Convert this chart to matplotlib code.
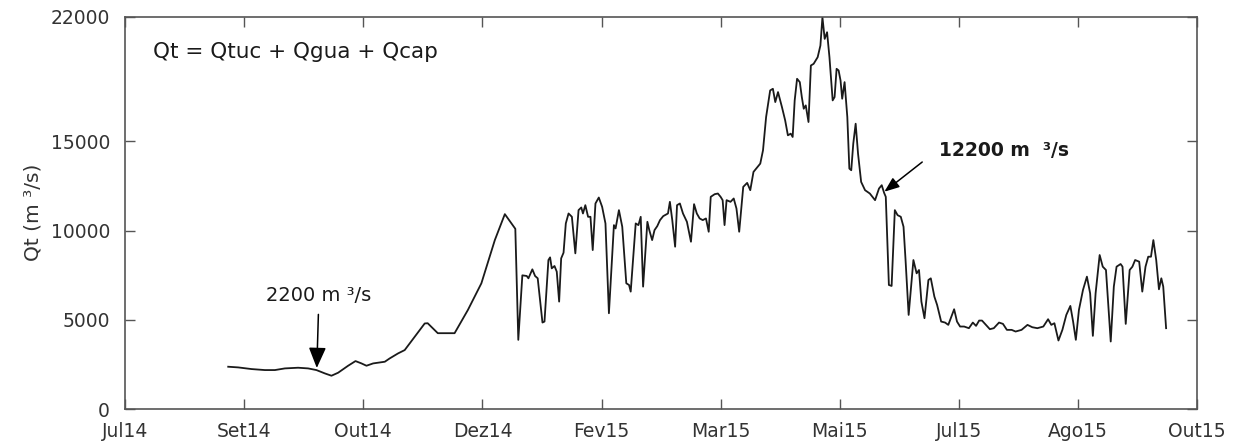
import matplotlib
matplotlib.use("Agg")
import matplotlib.pyplot as plt

# --- data (x in axis units: 0 = Jul14 ... 9 = Out15) ---
tick_labels = ["Jul14", "Set14", "Out14", "Dez14", "Fev15", "Mar15", "Mai15", "Jul15", "Ago15", "Out15"]
y_ticks = [0, 5000, 10000, 15000, 22000]

t_pos = [0.865, 0.949, 1.061, 1.173, 1.257, 1.341, 1.452, 1.536, 1.606, 1.676, 1.732, 1.788,
         1.872, 1.934, 1.984, 2.026, 2.082, 2.18, 2.221, 2.291, 2.347, 2.431, 2.515,
         2.54, 2.625, 2.766, 2.878, 2.991, 3.104, 3.188, 3.276, 3.301,
         3.335, 3.372, 3.386, 3.419, 3.442, 3.464, 3.504, 3.521, 3.554, 3.568, 3.582, 3.605,
         3.624, 3.644, 3.661, 3.681, 3.7, 3.723, 3.751, 3.78, 3.807, 3.83, 3.844, 3.864,
         3.887, 3.907, 3.926, 3.949, 3.977, 4.005, 4.033, 4.062, 4.104, 4.118, 4.146, 4.174,
         4.208, 4.231, 4.245, 4.287, 4.31, 4.329, 4.349,
         4.385, 4.401, 4.425, 4.445, 4.468, 4.491, 4.518, 4.558, 4.574, 4.594, 4.618, 4.634,
         4.658, 4.684, 4.717, 4.751, 4.777, 4.8, 4.824, 4.85, 4.877, 4.9, 4.917, 4.95, 4.977,
         5.0, 5.017, 5.033, 5.05, 5.083, 5.11, 5.133, 5.156, 5.19, 5.223, 5.249, 5.276, 5.299,
         5.333, 5.356, 5.382, 5.416, 5.439, 5.459, 5.482, 5.515, 5.542, 5.565, 5.589, 5.605,
         5.622, 5.642, 5.665, 5.682, 5.698, 5.715, 5.738, 5.758, 5.781, 5.815, 5.838, 5.855,
         5.874, 5.894, 5.914, 5.941, 5.957, 5.974, 5.991, 6.007, 6.021, 6.041, 6.064, 6.081,
         6.097, 6.114, 6.134, 6.154, 6.18, 6.213, 6.253, 6.297, 6.33, 6.353, 6.373, 6.387,
         6.413, 6.436, 6.463, 6.486, 6.513, 6.536, 6.553, 6.579, 6.619, 6.646, 6.666, 6.686,
         6.712, 6.745, 6.765, 6.795, 6.818, 6.852, 6.885, 6.912, 6.938, 6.961, 6.985, 7.011,
         7.045, 7.085, 7.118, 7.145, 7.171, 7.195, 7.228, 7.261, 7.294, 7.338, 7.371, 7.404,
         7.444, 7.477, 7.527, 7.577, 7.617, 7.66, 7.71, 7.75, 7.777, 7.803, 7.837, 7.87,
         7.903, 7.937, 7.96, 7.983, 8.009, 8.043, 8.076, 8.103, 8.126, 8.149, 8.183, 8.209,
         8.236, 8.276, 8.302, 8.325, 8.359, 8.375, 8.402, 8.435, 8.458, 8.481, 8.515, 8.541,
         8.568, 8.591, 8.614, 8.634, 8.658, 8.681, 8.701, 8.717, 8.741]

qt = [2370, 2332, 2239, 2183, 2183, 2276, 2314, 2276, 2183, 1997, 1866, 2034,
      2426, 2687, 2556, 2426, 2556, 2650, 2836, 3116, 3303, 4048, 4795,
      4809, 4250, 4250, 5555, 7046, 9469, 10923, 10100, 3877,
      7493, 7456, 7326, 7829, 7456, 7326, 4846, 4902, 8351, 8500, 7885, 8016,
      7698, 6021, 8444, 8761, 10401, 10960, 10774, 8724, 11147, 11296, 10960, 11426,
      10774, 10774, 8910, 11520, 11855, 11333, 10401, 5368, 10308, 10122, 11147, 10215,
      7046, 6953, 6580, 10401, 10308, 10774, 6860,
      10494, 10028, 9469, 10028, 10252, 10588, 10811, 10960, 11613, 10588, 9096, 11426,
      11520, 10960, 10494, 9376, 11482, 10960, 10681, 10588, 10681, 9935, 11892, 12041, 12079,
      11892, 11706, 10308, 11706, 11613, 11800, 11240, 9935, 12452, 12675, 12265, 13290, 13477,
      13756, 14502, 16366, 17857, 17950, 17205, 17764, 16925, 16180, 15341, 15434, 15248,
      17298, 18509, 18323, 17484, 16832, 17018, 16086, 19255, 19348, 19721, 20374, 21958,
      20746, 21119, 19721, 17298, 17484, 19069, 18975, 18416, 17391, 18323, 16366, 13477,
      13384, 14875, 15993, 14316, 12731, 12265, 12079, 11706, 12358, 12545, 12116, 11892,
      6953, 6897, 11147, 10867, 10774, 10215, 8351, 5275, 8351, 7605, 7792, 6021,
      5089, 7232, 7326, 6301, 5834, 4902, 4846, 4716, 5182, 5592, 4902, 4623,
      4623, 4530, 4846, 4660, 4958, 4958, 4716, 4474, 4530, 4846, 4772, 4436,
      4436, 4343, 4436, 4716, 4585, 4530, 4623, 5033, 4716, 4809, 3840, 4436,
      5275, 5778, 4902, 3877, 5555, 6673, 7419, 6487, 4101, 6487, 8631, 7978,
      7792, 3784, 6860, 7978, 8127, 7978, 4772, 7792, 7978, 8351, 8258, 6580,
      7978, 8537, 8537, 9469, 8351, 6710, 7326, 6860, 4530]

formula_text = "Qt = Qtuc + Qgua + Qcap"
ylabel_text = "Qt (m \u00b3/s)"
ann_low_text = "2200 m \u00b3/s"
ann_low_xy = (1.609, 2300)
ann_low_text_xy = (1.627, 6380)
ann_high_text = "12200 m  \u00b3/s"
ann_high_xy = (6.375, 12180)
ann_high_text_xy = (6.836, 14500)
ann_high_tail = (6.693, 13844)

plt.rcParams['font.family'] = ['DejaVu Sans']

fig = plt.figure(figsize=(12.36, 4.44), dpi=100)
ax = fig.add_axes([0.1013, 0.0788, 0.8671, 0.8840])

ax.plot(t_pos, qt, color='#1a1a1a', lw=1.3)

ax.set_xlim(0, len(tick_labels) - 1)
ax.set_ylim(0, 22000)
ax.set_xticks(range(len(tick_labels)))
ax.set_xticklabels(tick_labels)
ax.set_yticks(y_ticks)
ax.set_yticklabels([str(v) for v in y_ticks])

for s in ax.spines.values():
    s.set_color('#555555')
    s.set_linewidth(1.2)
ax.tick_params(direction='in', length=7, width=1.0, color='#555555',
               top=True, right=True, labelsize=13.5, labelcolor='#333333')
ax.tick_params(axis='x', pad=9)
ax.tick_params(axis='y', pad=11)

ax.set_ylabel(ylabel_text, fontsize=14.5, color='#333333', labelpad=6)

ax.text(0.23, 20000, formula_text, fontsize=15.5, color='#1a1a1a', va='center', ha='left')

ax.annotate(ann_low_text, xy=ann_low_xy, xytext=ann_low_text_xy,
            ha='center', va='center', fontsize=14, color='#1a1a1a',
            arrowprops=dict(arrowstyle='-|>,head_length=0.9,head_width=0.38', color='black',
                            lw=1.1, shrinkA=5, shrinkB=0, mutation_scale=14))

ax.text(ann_high_text_xy[0], ann_high_text_xy[1], ann_high_text, ha='left', va='center',
        fontsize=13.5, fontweight='bold', color='#1a1a1a')
ax.annotate('', xy=ann_high_xy, xytext=ann_high_tail,
            arrowprops=dict(arrowstyle='-|>,head_length=0.9,head_width=0.35', color='black',
                            lw=1.1, shrinkA=0, shrinkB=0, mutation_scale=10))

fig.savefig('out.png', dpi=100)
